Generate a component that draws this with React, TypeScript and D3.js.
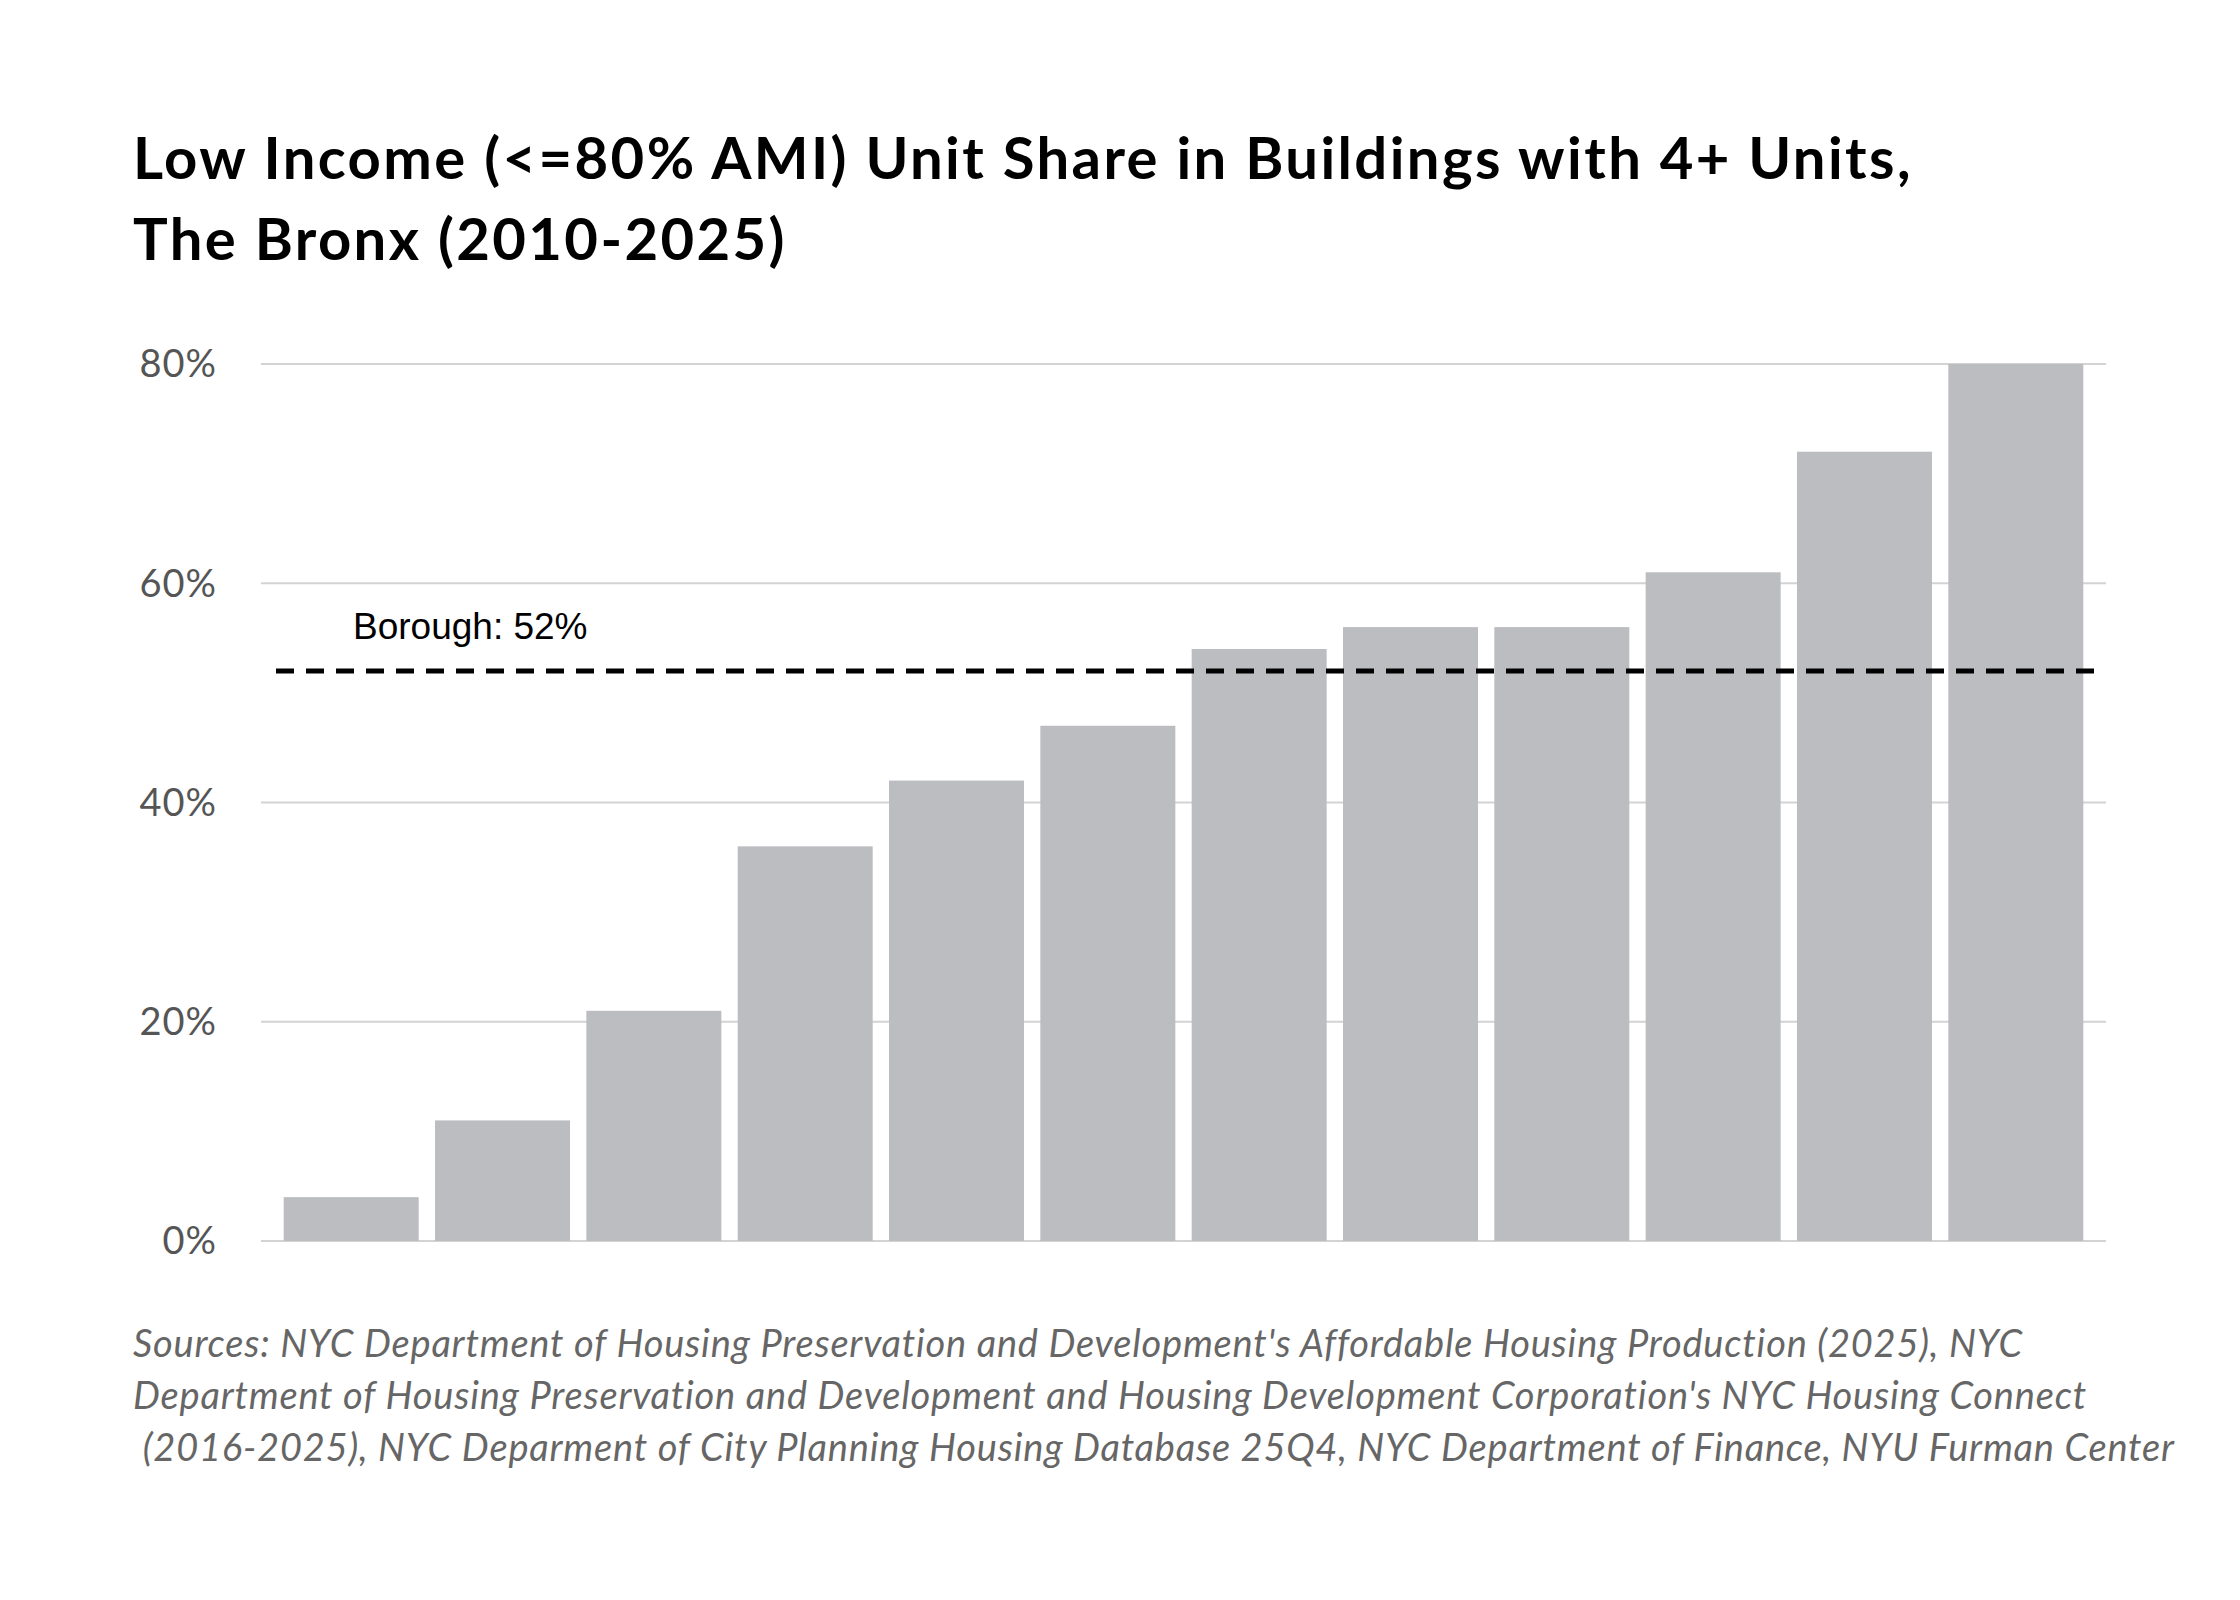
import React from "react";
import * as d3 from "d3";

const categories = ["1","2","3","4","5","6","7","8","9","10","11","12"];
const values = [4, 11, 21, 36, 42, 47, 54, 56, 56, 61, 72, 80];
const yTicks = [0, 20, 40, 60, 80];
const borough = 52;
const titleLines = ["Low Income (<=80% AMI) Unit Share in Buildings with 4+ Units,", "The Bronx (2010-2025)"];
const sourceLines = [
  "Sources: NYC Department of Housing Preservation and Development's Affordable Housing Production (2025), NYC",
  "Department of Housing Preservation and Development and Housing Development Corporation's NYC Housing Connect",
  " (2016-2025), NYC Deparment of City Planning Housing Database 25Q4, NYC Department of Finance, NYU Furman Center",
];

export default function App() {
  const W = 2240, H = 1600;
  const x0 = 261, x1 = 2106, yTop = 364, yBot = 1241;
  const x = d3.scaleBand<string>().domain(categories).range([x0, x1]).paddingInner(0.108).paddingOuter(0.15);
  const y = d3.scaleLinear().domain([0, 80]).range([yBot, yTop]);
  const font = "Lato, 'Open Sans', sans-serif";
  return (
    <svg width={W} height={H} style={{ position: "absolute", left: 0, top: 0, background: "#fff" }}>
      {titleLines.map((t, i) => (
        <text key={i} x={133} y={179 + i * 81} fontFamily={font} fontWeight={700} fontSize={58} letterSpacing={2.4} fill="#000">{t}</text>
      ))}
      {yTicks.map((t) => (
        <g key={t}>
          <line x1={x0} x2={x1} y1={y(t)} y2={y(t)} stroke="#d3d3d3" strokeWidth={2} />
          <text x={217} y={y(t)} dy="0.35em" textAnchor="end" fontFamily={font} fontSize={38} letterSpacing={1} fill="#555">{t}%</text>
        </g>
      ))}
      {values.map((v, i) => (
        <rect key={i} x={x(categories[i])} y={y(v)} width={x.bandwidth()} height={yBot - y(v)} fill="#bcbdc1" />
      ))}
      <line x1={276} x2={x1} y1={y(borough)} y2={y(borough)} stroke="#000" strokeWidth={5} strokeDasharray="18 12" />
      <text x={353} y={y(borough) - 32} fontFamily="'Liberation Sans', Arial, sans-serif" fontSize={37} fill="#000">Borough: {borough}%</text>
      {sourceLines.map((t, i) => (
        <text key={i} x={133} y={1357 + i * 52} fontFamily={font} fontStyle="italic" fontSize={38} letterSpacing={0.8} fill="#666" style={{ whiteSpace: "pre" }}>{t}</text>
      ))}
    </svg>
  );
}
